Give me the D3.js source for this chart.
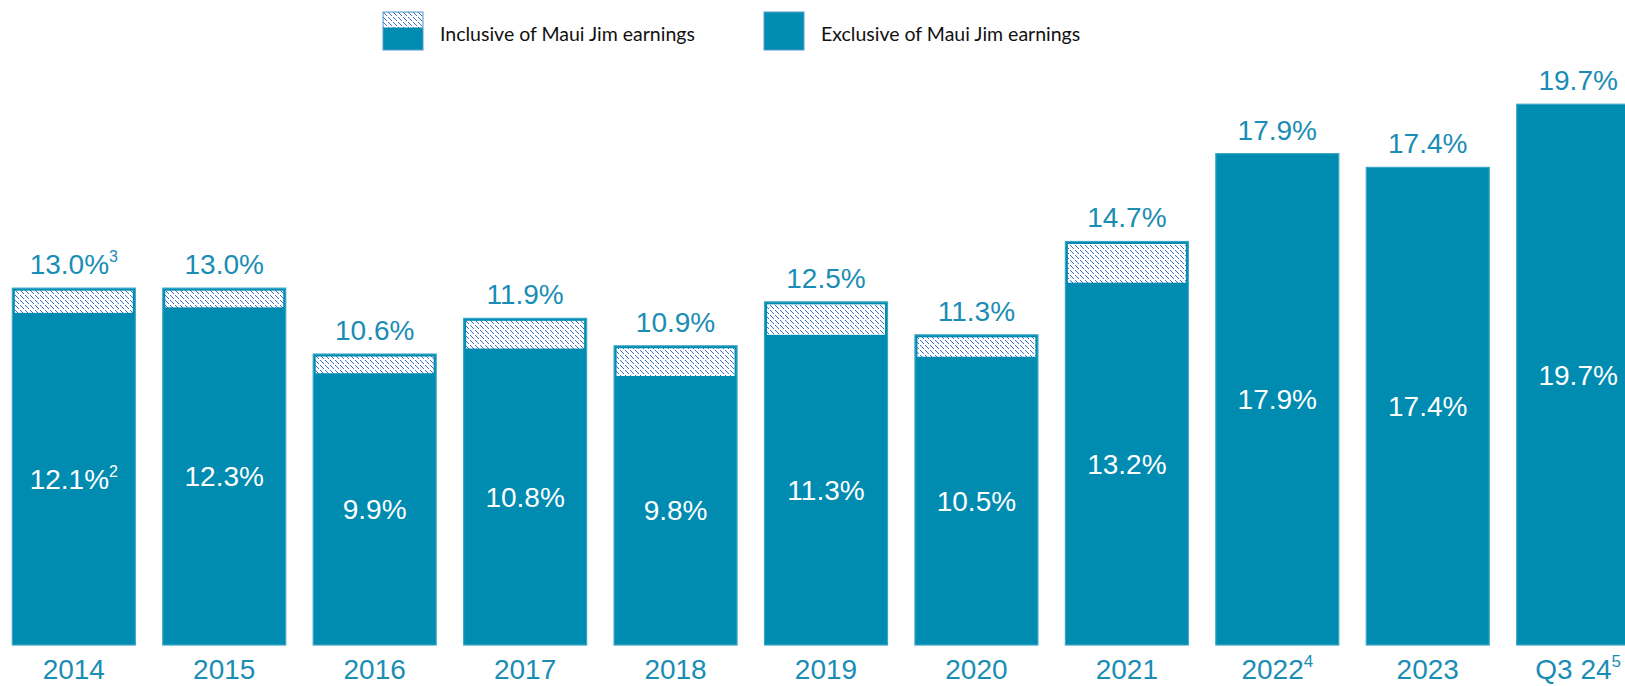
<!DOCTYPE html>
<html>
<head>
<meta charset="utf-8">
<script src="https://cdn.jsdelivr.net/npm/d3@7"></script>
<style>
  html, body { margin: 0; padding: 0; background: #ffffff; }
  svg { display: block; }
</style>
</head>
<body>
<svg id="chart" width="1625" height="686"></svg>
<script>
// ---- data ----
const categories = ["2014", "2015", "2016", "2017", "2018", "2019", "2020", "2021", "2022", "2023", "Q3 24"];
const categoryNotes = ["", "", "", "", "", "", "", "", "4", "", "5"];
const inclusiveValues = [13.0, 13.0, 10.6, 11.9, 10.9, 12.5, 11.3, 14.7, 17.9, 17.4, 19.7];
const exclusiveValues = [12.1, 12.3, 9.9, 10.8, 9.8, 11.3, 10.5, 13.2, 17.9, 17.4, 19.7];
const inclusiveNotes = ["3", "", "", "", "", "", "", "", "", "", ""];
const exclusiveNotes = ["2", "", "", "", "", "", "", "", "", "", ""];
const legendLabels = ["Inclusive of Maui Jim earnings", "Exclusive of Maui Jim earnings"];

(function () {
// ---- styles ----
const TEAL = "#008bb0";
const EDGE = "#3aa6c8";
const LABEL = "#1a8db5";
const HATCH = "#3d6fcc";
const FONT = "'Liberation Sans', Arial, sans-serif";

const svg = d3.select("#chart");
const data = categories.map((c, i) => ({
  cat: c, catNote: categoryNotes[i],
  inc: inclusiveValues[i], exc: exclusiveValues[i],
  incNote: inclusiveNotes[i], excNote: exclusiveNotes[i]
}));

// hatch pattern: dashed "\" diagonals
const defs = svg.append("defs");
const pat = defs.append("pattern")
  .attr("id", "hatch").attr("patternUnits", "userSpaceOnUse")
  .attr("width", 5).attr("height", 5);
pat.append("rect").attr("width", 5).attr("height", 5).attr("fill", "#ffffff");
[0, 1, 2, 3].forEach(k => {
  pat.append("rect").attr("x", k).attr("y", k).attr("width", 1).attr("height", 1)
    .attr("fill", HATCH).attr("shape-rendering", "crispEdges");
});

// scales
const x = d3.scaleBand().domain(categories)
  .range([-1.4, 1653.4]).paddingInner(0.1825).paddingOuter(0.09125);
const y = d3.scaleLinear().domain([0, 20]).range([645, 96]);

const g = svg.append("g");
const bars = g.selectAll("g.bar").data(data).join("g").attr("class", "bar");

// full bar (teal)
bars.append("rect")
  .attr("x", d => x(d.cat)).attr("width", x.bandwidth())
  .attr("y", d => y(d.inc)).attr("height", d => y(0) - y(d.inc))
  .attr("fill", TEAL).attr("stroke", EDGE).attr("stroke-width", 1.2);

// hatched increment
bars.filter(d => d.inc > d.exc).append("rect")
  .attr("x", d => x(d.cat) + 2.5).attr("width", x.bandwidth() - 5)
  .attr("y", d => y(d.inc) + 2.5).attr("height", d => y(d.exc) - y(d.inc) - 2.5)
  .attr("fill", "url(#hatch)");

// helper for text with optional superscript
function addText(sel, mainFn, noteFn, noteSize, shift) {
  sel.each(function(d) {
    const t = d3.select(this);
    t.append("tspan").text(mainFn(d));
    const n = noteFn(d);
    if (n) t.append("tspan").attr("font-size", noteSize).attr("dy", -shift).text(n);
  });
}

// top labels
const topLabels = bars.append("text")
  .attr("x", d => x(d.cat) + x.bandwidth() / 2)
  .attr("y", d => y(d.inc) - 14)
  .attr("text-anchor", "middle").attr("font-family", FONT)
  .attr("font-size", 28).attr("fill", LABEL);
addText(topLabels, d => d.inc.toFixed(1) + "%", d => d.incNote, 16, 12);

// inside labels
const insideLabels = bars.append("text")
  .attr("x", d => x(d.cat) + x.bandwidth() / 2)
  .attr("y", d => (y(d.exc) + y(0)) / 2 + 10)
  .attr("text-anchor", "middle").attr("font-family", FONT)
  .attr("font-size", 28).attr("fill", "#ffffff");
addText(insideLabels, d => d.exc.toFixed(1) + "%", d => d.excNote, 16, 12);

// category axis labels
const catLabels = bars.append("text")
  .attr("x", d => x(d.cat) + x.bandwidth() / 2)
  .attr("y", 679)
  .attr("text-anchor", "middle").attr("font-family", FONT)
  .attr("font-size", 28).attr("fill", LABEL);
addText(catLabels, d => d.cat, d => d.catNote, 17, 12);

// legend
const legend = svg.append("g").attr("class", "legend");
const legendX = [383, 764];
legendLabels.forEach((lab, i) => {
  const lg = legend.append("g").attr("transform", `translate(${legendX[i]},12)`);
  lg.append("rect").attr("width", 40).attr("height", 38)
    .attr("fill", TEAL).attr("stroke", "#5b9bd5").attr("stroke-width", 1);
  if (i === 0) {
    lg.append("rect").attr("x", 0.5).attr("y", 0.5).attr("width", 39).attr("height", 15)
      .attr("fill", "url(#hatch)");
  }
  lg.append("text").attr("x", 57).attr("y", 29)
    .attr("font-family", "Lato, 'Open Sans', sans-serif").attr("font-size", 19.5)
    .attr("fill", "#111").text(lab);
});
})();
</script>
</body>
</html>
